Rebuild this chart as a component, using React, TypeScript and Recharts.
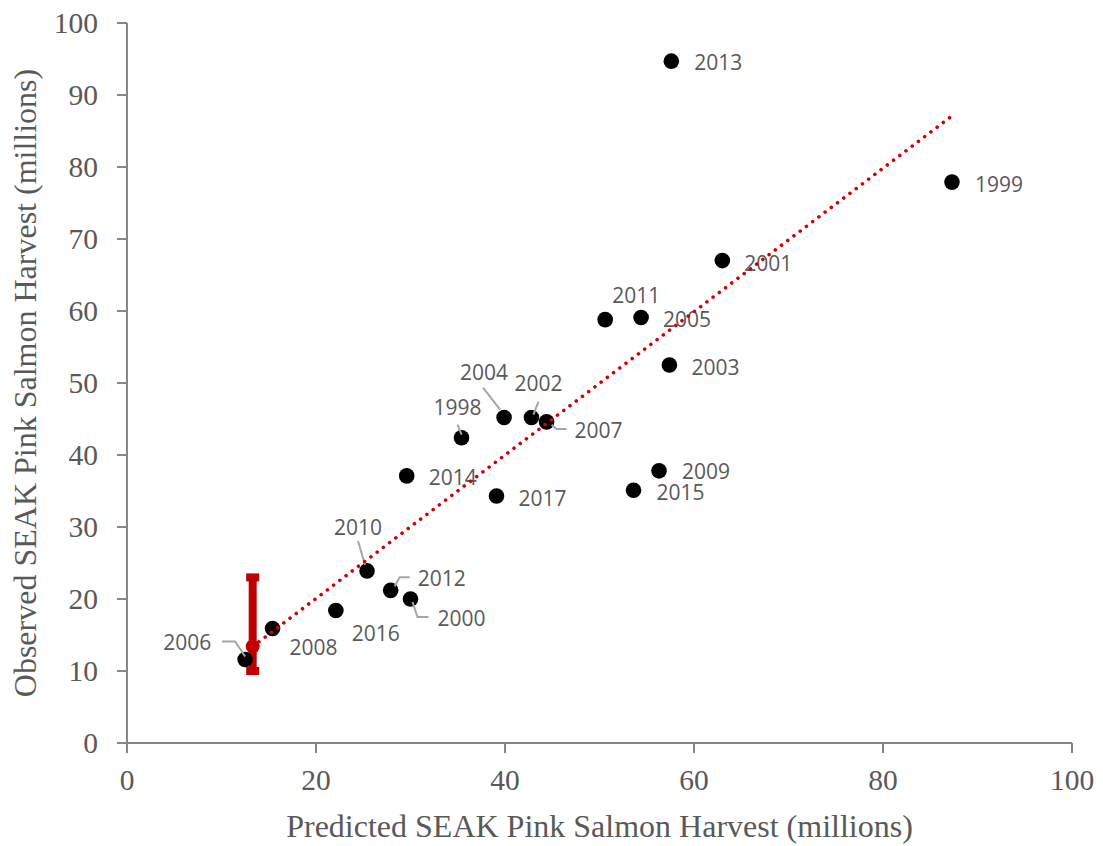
import React from "react"
import { ScatterChart, Scatter, XAxis, YAxis, ErrorBar } from "recharts"

// observed harvest by year, x = preseason forecast, y = actual (millions)
const years = [1998, 1999, 2000, 2001, 2002, 2003, 2004, 2005, 2006, 2007, 2008, 2009, 2010, 2011, 2012, 2013, 2014, 2015, 2016, 2017]
const predicted = [35.4, 87.3, 30.0, 63.0, 42.8, 57.4, 39.9, 54.4, 12.5, 44.4, 15.4, 56.3, 25.4, 50.6, 27.9, 57.6, 29.6, 53.6, 22.1, 39.1]
const observed = [42.4, 77.9, 20.0, 67.0, 45.2, 52.5, 45.2, 59.1, 11.6, 44.6, 15.9, 37.8, 23.9, 58.8, 21.2, 94.7, 37.1, 35.1, 18.4, 34.3]

// 2018 forecast with its range
const forecastX = [13.3]
const forecastY = [13.4]
const forecastLow = [10.0]
const forecastHigh = [23.0]

// trend line ends
const trendX = [13.3, 87.3]
const trendY = [13.4, 87.1]

const xTicks = [0, 20, 40, 60, 80, 100]
const yTicks = [0, 10, 20, 30, 40, 50, 60, 70, 80, 90, 100]

const points = years.map((year, i) => ({ year, x: predicted[i], y: observed[i] }))
const forecast = forecastX.map((x, i) => ({
  x,
  y: forecastY[i],
  err: [forecastY[i] - forecastLow[i], forecastHigh[i] - forecastY[i]],
}))
const trend = trendX.map((x, i) => ({ x, y: trendY[i] }))

// where each year label sits relative to its dot, plus leader lines
const labelPlacement: Record<number, { dx: number; dy: number; leader?: number[][] }> = {
  1998: { dx: -28, dy: -31, leader: [[-4, -13], [0, -3]] },
  1999: { dx: 23, dy: 2 },
  2000: { dx: 27, dy: 19, leader: [[2, 3], [7, 18], [18, 18]] },
  2001: { dx: 22, dy: 2 },
  2002: { dx: -17, dy: -35, leader: [[7, -16], [2, -3]] },
  2003: { dx: 22, dy: 2 },
  2004: { dx: -44, dy: -46, leader: [[-21, -30], [-4, -8]] },
  2005: { dx: 22, dy: 2 },
  2006: { dx: -82, dy: -17, leader: [[-23, -18], [-10, -18], [0, -3]] },
  2007: { dx: 28, dy: 8, leader: [[5, 3], [10, 7], [20, 7]] },
  2008: { dx: 17, dy: 18 },
  2009: { dx: 23, dy: 0 },
  2010: { dx: -33, dy: -44, leader: [[-9, -30], [-2, -6]] },
  2011: { dx: 7, dy: -25 },
  2012: { dx: 27, dy: -12, leader: [[4, -4], [9, -13], [19, -13]] },
  2013: { dx: 23, dy: 1 },
  2014: { dx: 22, dy: 1 },
  2015: { dx: 23, dy: 2 },
  2016: { dx: 16, dy: 22 },
  2017: { dx: 22, dy: 2 },
}

const axisColor = "#868686"
const textColor = "#595959"
const red = "#C00000"

function ObservedDot(props: any) {
  const { cx, cy, payload } = props
  const place = labelPlacement[payload.year]
  return (
    <g>
      <circle cx={cx} cy={cy} r={7.8} fill="#000" />
      {place && place.leader && (
        <polyline
          points={place.leader.map(([px, py]) => `${cx + px},${cy + py}`).join(" ")}
          fill="none"
          stroke="#A6A6A6"
          strokeWidth={2}
        />
      )}
      {place && (
        <text
          x={cx + place.dx}
          y={cy + place.dy}
          dominantBaseline="central"
          fontFamily="Open Sans"
          fontSize={21}
          fill={textColor}
        >
          {payload.year}
        </text>
      )}
    </g>
  )
}

function ForecastDot(props: any) {
  const { cx, cy } = props
  return <circle cx={cx} cy={cy} r={7} fill={red} />
}

function YTitle(props: any) {
  const { viewBox } = props
  const cy = viewBox.y + viewBox.height / 2
  return (
    <text
      x={25}
      y={cy}
      transform={`rotate(-90, 25, ${cy})`}
      textAnchor="middle"
      dominantBaseline="central"
      fontFamily="Liberation Serif"
      fontSize={32}
      fill={textColor}
    >
      Observed SEAK Pink Salmon Harvest (millions)
    </text>
  )
}

function XTitle(props: any) {
  const { viewBox } = props
  const cx = viewBox.x + viewBox.width / 2
  return (
    <text
      x={cx}
      y={826}
      textAnchor="middle"
      dominantBaseline="central"
      fontFamily="Liberation Serif"
      fontSize={32}
      fill={textColor}
    >
      Predicted SEAK Pink Salmon Harvest (millions)
    </text>
  )
}

export default function App() {
  const tickStyle = { fill: textColor, fontFamily: "Liberation Serif", fontSize: 29.5 }
  return (
    <div style={{ position: "absolute", left: 0, top: 0, background: "#fff" }}>
      <ScatterChart width={1103} height={846} margin={{ top: 23, right: 31, bottom: 0, left: 0 }}>
        <XAxis
          type="number"
          dataKey="x"
          domain={[0, 100]}
          ticks={xTicks}
          height={103}
          tickSize={10}
          tickMargin={16}
          axisLine={{ stroke: axisColor, strokeWidth: 2 }}
          tickLine={{ stroke: axisColor, strokeWidth: 2 }}
          tick={tickStyle}
          label={<XTitle />}
        />
        <YAxis
          type="number"
          dataKey="y"
          domain={[0, 100]}
          ticks={yTicks}
          width={127}
          tickSize={10}
          tickMargin={19}
          axisLine={{ stroke: axisColor, strokeWidth: 2 }}
          tickLine={{ stroke: axisColor, strokeWidth: 2 }}
          tick={tickStyle}
          label={<YTitle />}
        />
        <Scatter data={points} shape={<ObservedDot />} isAnimationActive={false} />
        <Scatter data={forecast} shape={<ForecastDot />} isAnimationActive={false}>
          <ErrorBar dataKey="err" direction="y" width={6.5} strokeWidth={8} stroke={red} isAnimationActive={false} />
        </Scatter>
        <Scatter
          data={trend}
          line={{ stroke: "#D00000", strokeWidth: 3.6, strokeDasharray: "0.01 7.8", strokeLinecap: "round" }}
          shape={() => <g />}
          isAnimationActive={false}
        />
      </ScatterChart>
    </div>
  )
}
